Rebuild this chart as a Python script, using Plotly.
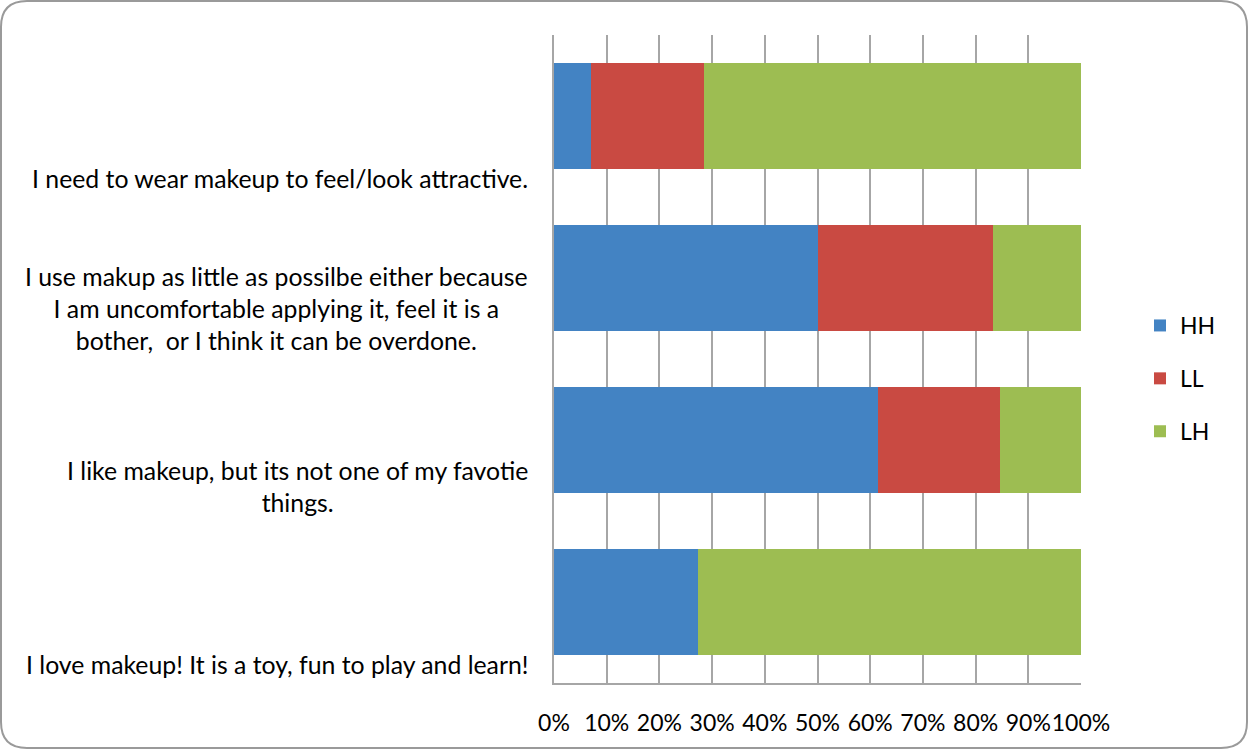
import plotly.graph_objects as go

# Survey statements, bottom to top as plotted
categories = [
    "I love makeup! It is a toy, fun to play and learn!",
    "I like makeup, but its not one of my favotie<br>things.",
    "I use makup as little as possilbe either because<br>I am uncomfortable applying it, feel it is a<br>bother,  or I think it can be overdone.",
    "I need to wear makeup to feel/look attractive.",
]
series_names = ["HH", "LL", "LH"]
hh = [27.3, 61.5, 50.0, 7.1]
ll = [0.0, 23.1, 33.3, 21.4]
lh = [72.7, 15.4, 16.7, 71.5]
colors = ["#4383c3", "#c94a42", "#9dbd52"]
tick_vals = [0, 10, 20, 30, 40, 50, 60, 70, 80, 90, 100]
tick_text = ["0%", "10%", "20%", "30%", "40%", "50%", "60%", "70%", "80%", "90%", "100%"]

FONT = "Lato"
W, H = 1249, 750
L, R, T, B = 554, 1081, 35, 683

fig = go.Figure()
ypos = list(range(len(categories)))
for name, vals, col in zip(series_names, [hh, ll, lh], colors):
    fig.add_trace(go.Bar(
        y=ypos, x=vals, name=name, orientation="h",
        marker=dict(color=col, line=dict(width=0)),
        legendgroup=name,
    ))

# Category labels, bottom-aligned within each band
for i, cat in enumerate(categories):
    fig.add_annotation(
        x=0, xref="paper", xanchor="right", xshift=-24,
        y=i - 0.5, yref="y", yanchor="bottom", yshift=2,
        text=cat, showarrow=False, align="center",
        font=dict(family=FONT, size=24.8, color="#000000"),
    )


def px(xp):
    return (xp - L) / (R - L)


def py(yp):
    return (B - yp) / (B - T)


# Rounded outer frame
x0, y0, x1, y1, r = 1, 1, 1247, 748, 26
path = (
    f"M {px(x0 + r)},{py(y0)} L {px(x1 - r)},{py(y0)} "
    f"Q {px(x1)},{py(y0)} {px(x1)},{py(y0 + r)} "
    f"L {px(x1)},{py(y1 - r)} Q {px(x1)},{py(y1)} {px(x1 - r)},{py(y1)} "
    f"L {px(x0 + r)},{py(y1)} Q {px(x0)},{py(y1)} {px(x0)},{py(y1 - r)} "
    f"L {px(x0)},{py(y0 + r)} Q {px(x0)},{py(y0)} {px(x0 + r)},{py(y0)} Z"
)
fig.add_shape(type="path", path=path, xref="paper", yref="paper",
              line=dict(color="#9a9a9a", width=2), layer="below")

fig.update_layout(
    width=W, height=H,
    margin=dict(l=L, r=W - R, t=T, b=H - B, autoexpand=False),
    barmode="stack", bargap=0.35,
    paper_bgcolor="white", plot_bgcolor="white",
    font=dict(family=FONT, size=22, color="#000000"),
    showlegend=True,
    legend=dict(
        x=px(1140), y=py(304), xanchor="left", yanchor="top",
        traceorder="grouped", tracegroupgap=20,
        font=dict(family=FONT, size=23, color="#000000"),
        itemwidth=30,
    ),
    xaxis=dict(
        range=[0, 100], tickvals=tick_vals, ticktext=tick_text,
        showgrid=True, gridcolor="#a6a6a6", gridwidth=2,
        showline=True, linecolor="#a6a6a6", linewidth=2,
        zeroline=False, ticks="", ticklabelstandoff=18,
        tickangle=0, automargin=False,
        tickfont=dict(family=FONT, size=23),
        fixedrange=True,
    ),
    yaxis=dict(
        range=[-0.5, 3.5], showticklabels=False, showgrid=False,
        showline=True, linecolor="#a6a6a6", linewidth=2,
        zeroline=False, ticks="", fixedrange=True, automargin=False,
    ),
)

fig.write_html("out.html")
